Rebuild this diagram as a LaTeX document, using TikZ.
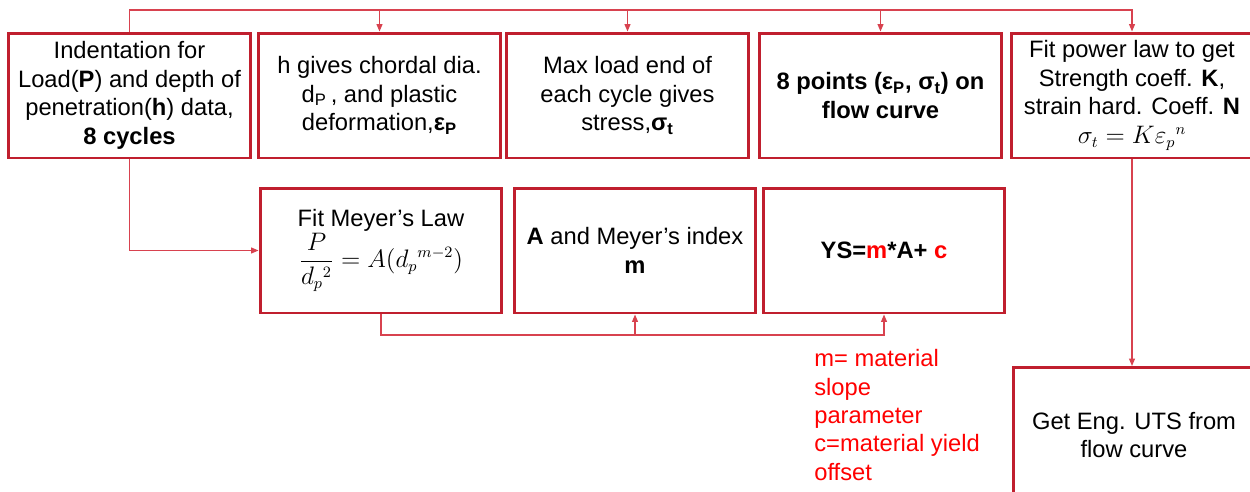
\documentclass[tikz,border=0pt]{standalone}
\usepackage{fontspec}
\setmainfont{Liberation Sans}
\usetikzlibrary{arrows.meta}
\definecolor{ymred}{HTML}{C01F2E}
\definecolor{ymline}{HTML}{D8424F}
\definecolor{ymnote}{HTML}{FF0000}
\tikzset{
  ym text/.style={font=\fontsize{13.5}{16.2}\selectfont, text=black},
  ym box/.style={draw=ymred, line width=1.7pt, fill=white, inner sep=2pt,
    minimum width=4.84cm, minimum height=2.5cm, align=center},
  ym link/.style={draw=ymline, line width=0.7pt},
  ym arrow/.style={ym link, -{Triangle[length=1.5mm,width=1.2mm]}},
  ym note/.style={text=ymnote, align=left, anchor=north west, inner sep=0pt}
}
\begin{document}
\begin{tikzpicture}[ym text, x=0.02cm, y=-0.02cm]
  \useasboundingbox (0,0) rectangle (1250,491);
  \clip (0,0) rectangle (1250,491);
  \node[ym box] (ind) at (129.5,95.5) {Indentation for\\Load(\textbf{P}) and depth of\\penetration(\textbf{h}) data,\\\textbf{8 cycles}};
  \node[ym box] (chd) at (379.5,95.5) {h gives chordal dia.\\d\textsubscript{P}\,, and plastic\\deformation,\textbf{ε\textsubscript{P}}};
  \node[ym box] (str) at (627.5,95.5) {Max load end of\\each cycle gives\\stress,\textbf{σ\textsubscript{t}}};
  \node[ym box] (pts) at (880.5,95.5) {\textbf{8 points (ε\textsubscript{P}, σ\textsubscript{t}) on}\\\textbf{flow curve}};
  \node[ym box] (pow) at (1132,95.5) {Fit power law to get\\Strength coeff. \textbf{K},\\strain hard. Coeff. \textbf{N}\\$\sigma_t = K\varepsilon_p{}^{n}$};
  \node[ym box] (mey) at (381,250.5) {Fit Meyer’s Law\\$\displaystyle\frac{P}{d_p{}^{2}} = A(d_p{}^{m-2})$};
  \node[ym box] (idx) at (635,250.5) {\textbf{A} and Meyer’s index\\\textbf{m}};
  \node[ym box] (ys) at (884,250.5) {\textbf{YS=\textcolor{ymnote}{m}*A+ \textcolor{ymnote}{c}}};
  \node[ym box, minimum height=2.7cm] (uts) at (1134,435) {Get Eng. UTS from\\flow curve};
  \node[ym note] (note) at (814,349) {m= material\\slope\\parameter\\c=material yield\\offset};
  % top feed line
  \coordinate (bus) at (0,10);
  \draw[ym arrow] (ind.north) |- (bus -| pow.north) -- (pow.north);
  \draw[ym arrow] (bus -| chd.north) -- (chd.north);
  \draw[ym arrow] (bus -| str.north) -- (str.north);
  \draw[ym arrow] (bus -| pts.north) -- (pts.north);
  % lower row
  \draw[ym arrow] (ind.south) |- (mey.west);
  \coordinate (low) at (0,335);
  \draw[ym arrow] (mey.south) |- (low -| ys.south) -- (ys.south);
  \draw[ym arrow] (low -| idx.south) -- (idx.south);
  \draw[ym arrow] (pow.south) -- (pow.south |- uts.north);
\end{tikzpicture}
\end{document}
